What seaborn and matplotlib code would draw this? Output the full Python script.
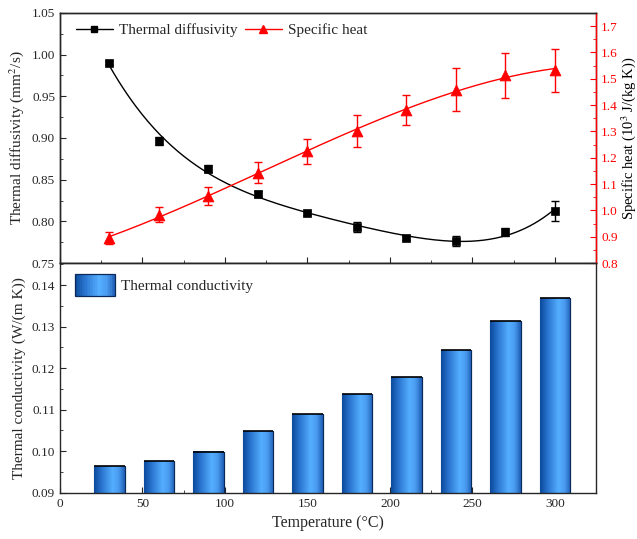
import numpy as np
import pandas as pd
import matplotlib
matplotlib.use("Agg")
import matplotlib.pyplot as plt
from matplotlib.ticker import MultipleLocator, FormatStrFormatter
from matplotlib.colors import LinearSegmentedColormap
from matplotlib.patches import Rectangle
from matplotlib.legend_handler import HandlerBase
import seaborn as sns

temperature = [30, 60, 90, 120, 150, 180, 210, 240, 270, 300]
diffusivity = [0.990, 0.896, 0.863, 0.833, 0.810, 0.793, 0.780, 0.776, 0.787, 0.813]
diffusivity_err = [0.002, 0.005, 0.004, 0.004, 0.002, 0.006, 0.002, 0.006, 0.005, 0.012]
specific_heat = [0.894, 0.984, 1.055, 1.143, 1.224, 1.302, 1.381, 1.459, 1.513, 1.532]
specific_heat_err = [0.022, 0.030, 0.033, 0.040, 0.048, 0.060, 0.056, 0.080, 0.085, 0.082]
conductivity = [0.0963, 0.0976, 0.0999, 0.1049, 0.1089, 0.1137, 0.1179, 0.1243, 0.1313, 0.1369]

sns.set_style("ticks")
plt.rcParams['font.family'] = ['Liberation Serif', 'DejaVu Serif']
plt.rcParams['mathtext.fontset'] = 'stix'

df = pd.DataFrame({"T": temperature, "D": diffusivity, "Cp": specific_heat, "k": conductivity})

fig = plt.figure(figsize=(6.37, 5.39), dpi=100)
ax1 = fig.add_axes([0.094, 0.512, 0.842, 0.464])
ax3 = fig.add_axes([0.094, 0.086, 0.842, 0.426])
ax2 = ax1.twinx()

RED = "#ff0000"
# fitted curves
xs = np.linspace(30, 300, 300)
pD = np.polyfit(temperature, diffusivity, 4)
pC = np.polyfit(temperature, specific_heat, 3)
fit = pd.DataFrame({"x": xs, "D": np.polyval(pD, xs), "C": np.polyval(pC, xs)})
sns.lineplot(data=fit, x="x", y="D", ax=ax1, color="black", lw=1.0)
sns.lineplot(data=fit, x="x", y="C", ax=ax2, color=RED, lw=1.0)

ax1.errorbar(temperature, diffusivity, yerr=diffusivity_err, fmt="none", ecolor="black",
             elinewidth=1.0, capsize=3, capthick=1.0)
sns.scatterplot(data=df, x="T", y="D", ax=ax1, marker="s", color="black", s=36,
                edgecolor="black", zorder=5)
ax2.errorbar(temperature, specific_heat, yerr=specific_heat_err, fmt="none", ecolor=RED,
             elinewidth=1.0, capsize=3, capthick=1.0)
sns.scatterplot(data=df, x="T", y="Cp", ax=ax2, marker="^", color=RED, s=60,
                edgecolor=RED, zorder=5)

ax1.set_xlim(0, 325)
ax1.set_ylim(0.75, 1.05)
ax2.set_ylim(0.8, 1.75)
ax1.set_xlabel("")
ax1.set_ylabel("Thermal diffusivity (mm$^2$/s)", fontsize=11)
ax2.set_ylabel("Specific heat (10$^3$ J/(kg K))", fontsize=10.5, color="black", labelpad=1)
ax1.yaxis.set_major_locator(MultipleLocator(0.05))
ax1.yaxis.set_minor_locator(MultipleLocator(0.025))
ax2.yaxis.set_major_locator(MultipleLocator(0.1))
ax2.yaxis.set_minor_locator(MultipleLocator(0.05))
ax1.xaxis.set_major_locator(MultipleLocator(50))
ax1.xaxis.set_minor_locator(MultipleLocator(25))
ax1.tick_params(axis="x", which="both", direction="in", labelbottom=False, length=4)
ax1.tick_params(axis="x", which="minor", length=2.5)
ax1.tick_params(axis="y", which="major", direction="in", length=4, labelsize=9.5)
ax1.tick_params(axis="y", which="minor", direction="in", length=2.5)
ax2.tick_params(axis="y", which="major", direction="in", length=4, colors=RED, labelsize=9.5)
ax2.tick_params(axis="y", which="minor", direction="in", length=2.5, colors=RED)
for a in (ax1, ax2):
    for s in a.spines.values():
        s.set_linewidth(1.0)
ax2.spines["right"].set_color(RED)

h1 = plt.Line2D([], [], color="black", marker="s", markersize=5, lw=1.0)
h2 = plt.Line2D([], [], color=RED, marker="^", markersize=6, lw=1.0)
ax1.legend([h1, h2], ["Thermal diffusivity", "Specific heat"], loc="upper left",
           ncol=2, frameon=False, fontsize=11, bbox_to_anchor=(0.01, 1.0),
           handlelength=2.4, columnspacing=0.5, borderaxespad=0.3, handletextpad=0.4)

# bottom panel bars
sns.barplot(data=df, x="T", y="k", ax=ax3, native_scale=True, width=0.62,
            color="#3c8ee8", edgecolor="#0a2a5a", linewidth=0.8, zorder=2)
YB = (0.09, 0.1453)
ax3.set_xlim(0, 325)
ax3.set_ylim(*YB)
cmap = LinearSegmentedColormap.from_list("bar", [(0, "#0c4a9c"), (0.25, "#2a75d0"),
                                                 (0.6, "#55aeff"), (0.8, "#4a9cf0"),
                                                 (1.0, "#1f5fb5")])
grad = np.linspace(0, 1, 64).reshape(1, -1)
for p in list(ax3.patches):
    x0 = p.get_x()
    w, h = p.get_width(), p.get_height()
    top = p.get_y() + h
    ax3.imshow(grad, cmap=cmap, aspect="auto", extent=[x0, x0 + w, YB[0], top],
               zorder=2.5, interpolation="bicubic")
    ax3.plot([x0, x0 + w], [top, top], color="black", lw=1.2, zorder=3,
             solid_capstyle="butt")
    ax3.plot([x0 + w, x0 + w], [YB[0], top], color="#0a2a5a", lw=0.8, zorder=3)
ax3.set_xlim(0, 325)
ax3.set_ylim(*YB)
ax3.set_xlabel("Temperature (°C)", fontsize=11.5)
ax3.set_ylabel("Thermal conductivity (W/(m K))", fontsize=11)
ax3.xaxis.set_major_locator(MultipleLocator(50))
ax3.xaxis.set_minor_locator(MultipleLocator(25))
ax3.yaxis.set_major_locator(MultipleLocator(0.01))
ax3.yaxis.set_minor_locator(MultipleLocator(0.005))
ax3.tick_params(axis="both", which="major", direction="in", length=4, labelsize=9.5)
ax3.tick_params(axis="both", which="minor", direction="in", length=2.5)
ax3.yaxis.set_major_formatter(FormatStrFormatter("%.2f"))
for s in ax3.spines.values():
    s.set_linewidth(1.0)
    s.set_visible(True)


class GradHandler(HandlerBase):
    def create_artists(self, legend, orig_handle, xdescent, ydescent, width, height, fontsize, trans):
        arts = []
        n = 24
        for i in range(n):
            r = Rectangle((-xdescent + width * i / n, -ydescent - 3), width / n + 0.3, height + 6,
                          transform=trans, facecolor=cmap((i + 0.5) / n), edgecolor="none", lw=0)
            arts.append(r)
        arts.append(Rectangle((-xdescent, -ydescent - 3), width, height + 6, transform=trans,
                              facecolor="none", edgecolor="#0a2a5a", lw=0.9))
        return arts


ax3.legend([Rectangle((0, 0), 1, 1)], ["Thermal conductivity"], loc="upper left",
           frameon=False, fontsize=11, handler_map={Rectangle: GradHandler()},
           handlelength=2.6, handleheight=1.0, borderaxespad=0.6, handletextpad=0.4)

fig.savefig("out.png", dpi=100)
